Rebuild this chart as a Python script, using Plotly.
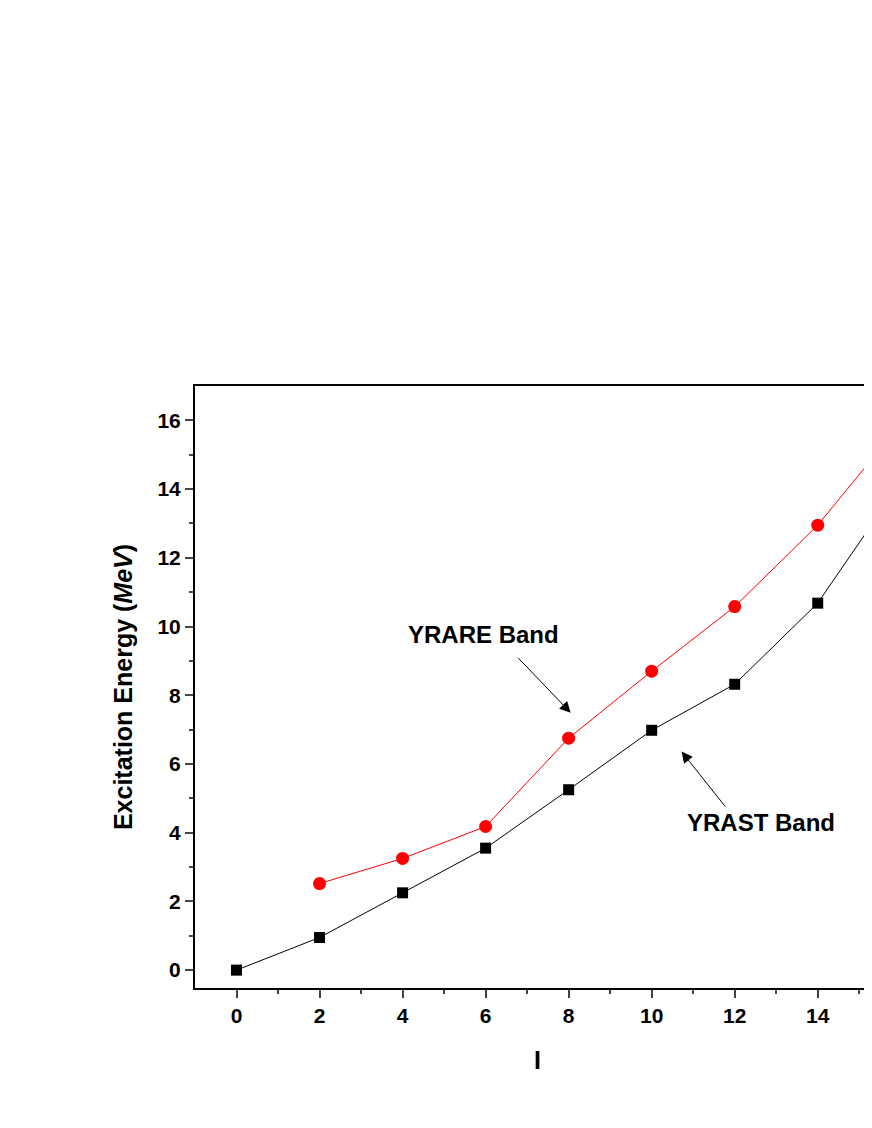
import plotly.graph_objects as go

spin_yrast = [0, 2, 4, 6, 8, 10, 12, 14, 16]
e_yrast = [0, 0.95, 2.25, 3.55, 5.25, 6.98, 8.32, 10.68, 14.2]
spin_yrare = [2, 4, 6, 8, 10, 12, 14, 16]
e_yrare = [2.52, 3.25, 4.18, 6.75, 8.7, 10.58, 12.95, 15.9]

fig = go.Figure()
fig.add_trace(go.Scatter(x=spin_yrast, y=e_yrast, mode="lines+markers",
                         line=dict(color="black", width=1),
                         marker=dict(symbol="square", size=11, color="black"), cliponaxis=True))
fig.add_trace(go.Scatter(x=spin_yrare, y=e_yrare, mode="lines+markers",
                         line=dict(color="red", width=1),
                         marker=dict(symbol="circle", size=13, color="red"), cliponaxis=True))

font = dict(family="Liberation Sans, Arial", size=24, color="black")
fig.add_annotation(x=8.05, y=7.49, ax=6.75, ay=9.13, axref="x", ayref="y", text="",
                   showarrow=True, arrowhead=2, arrowsize=2.2, arrowwidth=1, arrowcolor="black")
fig.add_annotation(x=10.72, y=6.36, ax=11.8, ay=4.72, axref="x", ayref="y", text="",
                   showarrow=True, arrowhead=2, arrowsize=2.2, arrowwidth=1, arrowcolor="black")
fig.add_annotation(x=5.96, y=9.77, text="<b>YRARE Band</b>", showarrow=False, font=font)
fig.add_annotation(x=12.64, y=4.31, text="<b>YRAST Band</b>", showarrow=False, font=font)

tickfont = dict(family="Liberation Sans, Arial", size=21, color="black")
titlefont = dict(family="Liberation Sans, Arial", size=25, color="black")
fig.update_layout(
    width=872, height=1128, showlegend=False,
    paper_bgcolor="white", plot_bgcolor="white",
    margin=dict(l=187, r=0, t=378, b=148),
    xaxis=dict(range=[-1, 15.5], tickvals=list(range(0, 16, 2)),
               ticktext=[f"<b>{v}</b>" for v in range(0, 16, 2)],
               ticks="outside", ticklen=8, tickwidth=2, showline=True, linewidth=2,
               linecolor="black", mirror=True, showgrid=False, zeroline=False,
               tickfont=tickfont,
               minor=dict(tickvals=list(range(1, 16, 2)), ticks="outside", ticklen=4, tickwidth=2),
               title=dict(text="<b>I</b>", font=titlefont, standoff=25)),
    yaxis=dict(range=[-0.52, 17], tickvals=list(range(0, 17, 2)),
               ticktext=[f"<b>{v}</b>" for v in range(0, 17, 2)],
               ticks="outside", ticklen=8, tickwidth=2, showline=True, linewidth=2,
               linecolor="black", mirror=False, showgrid=False, zeroline=False,
               tickfont=tickfont,
               minor=dict(tickvals=list(range(1, 17, 2)), ticks="outside", ticklen=4, tickwidth=2),
               title=dict(text="<b>Excitation Energy (<i>MeV</i>)</b>", font=titlefont, standoff=18)),
)
fig.write_html("out.html")
